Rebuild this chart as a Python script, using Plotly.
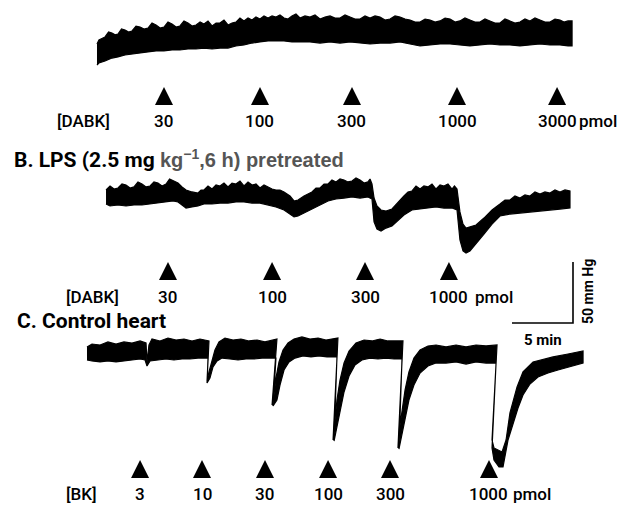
import plotly.graph_objects as go

# ---------------- data (time in min, pressure change in mmHg) ----------------
# Panel A: DABK, control heart -- top and bottom edge of the pressure trace
A_top_time = [7.95, 8.11, 8.61, 8.90, 9.18, 9.43, 9.67, 9.96, 10.25, 10.54,
              10.82, 11.15, 11.48, 11.81, 12.13, 12.46, 12.79, 13.12, 13.44, 13.77,
              14.10, 14.43, 14.75, 15.08, 15.41, 15.74, 16.07, 16.40, 16.72, 17.05,
              17.38, 17.71, 18.03, 18.36, 18.69, 19.02, 19.34, 19.67, 20.00, 20.33,
              20.66, 20.98, 21.31, 21.64, 21.97, 22.30, 22.62, 22.95, 23.28, 23.61,
              23.93, 24.26, 24.59, 25.00, 25.41, 25.82, 26.23, 26.64, 27.05, 27.46,
              27.87, 28.28, 28.69, 29.10, 29.51, 29.92, 30.33, 30.74, 31.15, 31.56,
              31.97, 32.38, 32.79, 33.20, 33.61, 34.02, 34.43, 34.84, 35.25, 35.66,
              36.07, 36.48, 36.89, 37.30, 37.70, 38.11, 38.52, 38.93, 39.34, 39.75,
              40.16, 40.57, 40.98, 41.39, 41.80, 42.21, 42.62, 43.03, 43.44, 43.85,
              44.26, 44.67, 45.08, 45.49, 45.90, 46.23, 46.56, 46.89]
A_top = [17.2, 20.5, 23.0, 27.0, 26.2, 24.8, 25.4, 29.5, 28.7, 27.0,
         27.9, 31.9, 31.1, 29.5, 30.3, 34.4, 32.8, 30.3, 31.1, 35.2,
         33.6, 31.1, 32.0, 36.1, 34.4, 32.0, 32.8, 35.2, 33.6, 36.1,
         32.0, 34.4, 34.4, 36.9, 32.8, 34.4, 35.2, 38.5, 36.1, 38.5,
         36.9, 39.3, 37.7, 40.2, 38.5, 40.2, 39.3, 41.0, 38.5, 37.7,
         40.2, 41.8, 38.5, 40.2, 39.3, 41.0, 37.7, 39.3, 40.2, 38.5,
         38.5, 41.0, 39.3, 37.7, 37.7, 40.2, 38.5, 40.2, 39.3, 36.9,
         37.7, 40.2, 39.3, 37.7, 36.9, 35.2, 35.2, 37.7, 36.9, 35.2,
         36.1, 38.5, 37.7, 35.2, 36.1, 38.5, 36.9, 35.2, 35.2, 37.7,
         36.1, 34.4, 34.4, 37.7, 36.1, 34.4, 35.2, 37.7, 36.1, 38.5,
         36.9, 35.2, 35.2, 37.7, 36.9, 35.2, 36.1, 36.1]
A_bot_time = [7.95, 8.11, 8.61, 9.18, 9.67, 10.25, 10.82, 11.48, 12.13, 12.79,
              13.44, 14.10, 14.75, 15.41, 16.07, 16.72, 17.38, 18.03, 18.69, 19.34,
              20.00, 20.66, 21.31, 21.97, 22.62, 23.28, 23.93, 24.59, 25.41, 26.23,
              27.05, 27.87, 28.69, 29.51, 30.33, 31.15, 31.97, 32.79, 33.61, 34.43,
              35.25, 36.07, 36.89, 37.70, 38.52, 39.34, 40.16, 40.98, 41.80, 42.62,
              43.44, 44.26, 45.08, 45.90, 46.56, 46.89]
A_bot = [0.0, 1.6, 3.3, 5.7, 6.6, 8.2, 9.0, 9.8, 10.7, 11.5,
         11.5, 12.3, 12.3, 13.1, 13.1, 13.9, 13.1, 13.9, 13.9, 15.6,
         16.4, 18.0, 18.9, 19.7, 19.7, 19.7, 18.9, 18.9, 18.9, 18.0,
         18.9, 18.0, 18.9, 18.0, 17.2, 18.0, 18.0, 18.9, 17.2, 15.6,
         16.4, 17.2, 17.2, 16.4, 15.6, 16.4, 17.2, 16.4, 16.4, 15.6,
         16.4, 17.2, 16.4, 16.4, 15.6, 15.6]
A_inj_time = [13.44, 21.31, 28.85, 37.46, 45.66]
A_doses = ["30", "100", "300", "1000", "3000"]

# Panel B: DABK, LPS pretreated
B_top_time = [8.69, 9.02, 9.35, 9.67, 10.00, 10.33, 10.66, 10.98, 11.31, 11.64,
              11.97, 12.30, 12.62, 12.95, 13.28, 13.61, 13.90, 14.18, 14.59, 14.92,
              15.25, 15.74, 16.23, 16.48, 16.72, 17.05, 17.38, 17.71, 18.03, 18.36,
              18.69, 19.02, 19.34, 19.67, 20.00, 20.33, 20.66, 20.98, 21.31, 21.64,
              21.97, 22.30, 22.62, 22.95, 23.28, 23.77, 24.10, 24.43, 24.92, 25.57,
              25.90, 26.23, 26.56, 26.89, 27.21, 27.54, 27.87, 28.20, 28.52, 28.85,
              29.18, 29.51, 29.84, 30.16, 30.33, 30.49, 30.66, 30.90, 31.23, 31.64,
              32.13, 32.62, 33.11, 33.44, 33.77, 34.10, 34.43, 34.75, 35.08, 35.41,
              35.74, 36.07, 36.39, 36.72, 37.05, 37.25, 37.46, 37.70, 37.95, 38.20,
              38.52, 39.02, 39.67, 40.33, 40.98, 41.39, 41.80, 42.21, 42.62, 43.03,
              43.44, 43.85, 44.26, 44.67, 45.08, 45.49, 45.90, 46.31, 46.72]
B_top = [12.3, 15.6, 13.1, 13.9, 17.2, 16.4, 13.9, 14.8, 18.9, 17.2,
         14.8, 15.6, 18.9, 18.0, 15.6, 17.2, 21.3, 19.7, 18.0, 14.8,
         12.3, 10.7, 9.8, 12.3, 12.3, 15.6, 13.1, 16.4, 15.6, 18.0,
         14.8, 18.0, 17.2, 19.7, 15.6, 18.9, 16.4, 17.2, 13.9, 16.4,
         14.8, 13.1, 12.3, 12.3, 10.7, 7.4, 3.3, 4.1, 7.4, 10.7,
         13.9, 13.9, 17.2, 17.2, 20.5, 18.9, 21.3, 20.5, 18.9, 19.7,
         22.1, 20.5, 18.0, 18.9, 21.3, 17.2, 5.7, -0.8, -4.1, -4.9,
         -3.3, 2.5, 7.4, 10.7, 11.5, 15.6, 13.1, 15.6, 14.8, 17.2,
         13.1, 16.4, 15.6, 17.2, 13.1, 15.6, 13.1, -5.7, -15.6, -18.9,
         -18.0, -16.4, -10.7, -4.1, 0.8, 4.1, 4.1, 7.4, 5.7, 8.2,
         7.4, 10.7, 9.0, 10.7, 9.8, 12.3, 10.7, 12.3, 11.5]
B_bot_time = [8.69, 9.02, 9.67, 10.33, 10.98, 11.64, 12.30, 12.95, 13.61, 14.18,
              14.59, 14.92, 15.25, 15.74, 16.23, 16.72, 17.38, 18.03, 18.69, 19.34,
              20.00, 20.66, 21.31, 21.97, 22.62, 23.28, 23.77, 24.10, 24.43, 24.92,
              25.57, 26.23, 26.89, 27.54, 28.20, 28.85, 29.51, 30.16, 30.49, 30.66,
              30.90, 31.23, 31.64, 32.13, 32.62, 33.11, 33.77, 34.43, 35.08, 35.74,
              36.39, 37.05, 37.46, 37.70, 37.95, 38.20, 38.52, 39.02, 39.67, 40.33,
              40.98, 41.80, 42.62, 43.44, 44.26, 45.08, 45.90, 46.72]
B_bot = [0.8, -0.8, 0.0, -0.8, 0.0, 0.0, 0.8, 1.6, 2.5, 3.3,
         2.5, 0.0, -2.5, -1.6, -0.8, 0.8, 0.8, 1.6, 1.6, 2.5,
         2.5, 1.6, 1.6, 0.0, -1.6, -4.1, -7.4, -9.8, -9.0, -6.6,
         -3.3, 0.0, 3.3, 4.9, 5.7, 6.6, 5.7, 6.6, 4.9, -13.9,
         -19.7, -21.3, -18.9, -17.2, -12.3, -8.2, -4.1, -3.3, -2.5, -1.6,
         -2.5, -2.5, -4.1, -28.7, -37.7, -39.3, -37.7, -32.0, -23.8, -15.6,
         -9.0, -7.4, -6.6, -5.7, -4.9, -4.1, -3.3, -2.5]
B_inj_time = [13.77, 22.30, 29.92, 36.80]
B_doses = ["30", "100", "300", "1000"]

# Panel C: BK, control heart
C_top_time = [7.13, 7.54, 8.20, 8.85, 9.51, 10.16, 10.82, 11.48, 11.97, 12.05,
              12.21, 12.46, 13.11, 13.77, 14.43, 15.08, 15.74, 16.39, 17.13, 16.97,
              17.13, 17.38, 17.62, 17.95, 18.44, 19.10, 19.75, 20.41, 21.07, 21.72,
              22.70, 22.30, 22.46, 22.62, 22.87, 23.20, 23.61, 24.10, 24.75, 25.41,
              26.07, 26.72, 27.70, 27.30, 27.46, 27.62, 27.87, 28.20, 28.61, 29.18,
              29.84, 30.49, 31.15, 31.80, 33.03, 32.62, 32.79, 32.95, 33.20, 33.52,
              33.93, 34.43, 35.08, 35.74, 36.56, 37.38, 38.20, 39.02, 39.84, 40.74,
              40.33, 40.49, 41.15, 41.48, 41.80, 42.38, 42.87, 43.69, 45.33, 46.56,
              47.79]
C_top = [10.7, 13.1, 12.3, 14.8, 13.1, 14.8, 13.9, 15.6, 13.9, -1.6,
         12.3, 17.2, 15.6, 18.0, 16.4, 17.2, 15.6, 17.2, 15.6, -17.2,
         -9.8, 0.0, 8.2, 14.8, 18.0, 16.4, 17.2, 15.6, 16.4, 14.8,
         17.2, -36.9, -28.7, -14.8, -1.6, 8.2, 13.9, 17.2, 18.9, 17.2,
         18.0, 16.4, 18.0, -65.6, -49.2, -32.8, -16.4, -2.5, 7.4, 13.9,
         16.4, 15.6, 17.2, 15.6, 15.6, -72.1, -53.3, -41.0, -24.6, -9.8,
         1.6, 8.2, 11.5, 12.3, 10.7, 12.3, 10.7, 12.3, 11.5, 12.3,
         -65.6, -72.1, -75.4, -65.6, -43.4, -22.1, -9.8, -1.6, 2.5, 4.9,
         7.4]
C_bot_time = [7.13, 7.54, 8.20, 8.85, 9.51, 10.16, 10.82, 11.48, 11.89, 12.05,
              12.30, 12.95, 13.61, 14.26, 14.92, 15.57, 16.23, 17.05, 16.97, 17.21,
              17.46, 17.79, 18.20, 18.85, 19.51, 20.16, 20.82, 21.48, 22.62, 22.38,
              22.70, 22.95, 23.28, 23.69, 24.18, 24.84, 25.49, 26.15, 26.80, 27.62,
              27.38, 27.62, 27.87, 28.20, 28.61, 29.10, 29.67, 30.33, 30.98, 31.64,
              32.30, 32.95, 32.70, 32.95, 33.20, 33.52, 33.93, 34.43, 35.08, 35.74,
              36.56, 37.38, 38.20, 39.02, 39.84, 40.66, 40.33, 40.49, 40.90, 41.23,
              41.64, 42.05, 42.46, 42.87, 43.44, 44.10, 44.92, 45.74, 46.56, 47.79]
C_bot = [0.0, -0.8, -1.6, -0.8, -1.6, -0.8, 0.0, 0.8, 0.0, -4.9,
         -0.8, 0.0, 0.8, 0.0, 0.8, 0.8, 1.6, 1.6, -18.9, -14.8,
         -5.7, -0.8, 1.6, 0.8, 0.0, 0.8, 0.8, 1.6, 1.6, -37.7,
         -32.8, -20.5, -8.2, -1.6, 1.6, 3.3, 2.5, 3.3, 2.5, 2.5,
         -66.4, -57.4, -42.6, -26.2, -13.1, -4.1, 0.0, 1.6, 0.8, 1.6,
         0.8, 0.8, -73.0, -61.5, -47.5, -32.8, -20.5, -10.7, -4.9, -2.5,
         -2.5, -1.6, -3.3, -1.6, -2.5, -2.5, -72.1, -82.0, -87.7, -87.7,
         -65.6, -51.6, -39.3, -28.7, -19.7, -13.9, -10.7, -8.2, -5.7, -2.5]
C_inj_time = [11.48, 16.56, 21.72, 26.89, 31.97, 40.08]
C_doses = ["3", "10", "30", "100", "300", "1000"]

SCALE_TIME_MIN = 5
SCALE_PRESSURE_MMHG = 50

# ---------------- layout helpers ----------------
W, H = 629, 506            # browser window
OX, OY = 8, 8              # default page margin around the figure
FIG_W, FIG_H = W - OX, H - OY
PX_PER_MIN = 12.2
PX_PER_MMHG = 1.22


def xdata(px):
    return px / PX_PER_MIN


def ydata(py):
    return (H - py) / PX_PER_MMHG


def xpaper(px):
    return (px - OX) / FIG_W


def ypaper(py):
    return 1 - (py - OY) / FIG_H


OFF_A = ydata(65)
OFF_B = ydata(205)
OFF_C = ydata(360)

FONT = "Roboto, Liberation Sans, Arial, sans-serif"
LABEL_WEIGHT = 500

fig = go.Figure()


def outline(t_top, v_top, t_bot, v_bot, off):
    xs = list(t_top) + list(t_bot)[::-1]
    ys = [v + off for v in v_top] + [v + off for v in v_bot][::-1]
    return xs, ys


panels = [
    outline(A_top_time, A_top, A_bot_time, A_bot, OFF_A),
    outline(B_top_time, B_top, B_bot_time, B_bot, OFF_B),
    outline(C_top_time, C_top, C_bot_time, C_bot, OFF_C),
]
for xs, ys in panels:
    fig.add_trace(go.Scatter(x=xs, y=ys, mode="lines", fill="toself",
                             fillcolor="black",
                             line=dict(color="black", width=1.2),
                             hoverinfo="skip"))

# scale bar
sx0 = xdata(512)
sy0 = ydata(323)
fig.add_trace(go.Scatter(
    x=[sx0, sx0 + SCALE_TIME_MIN, sx0 + SCALE_TIME_MIN],
    y=[sy0, sy0, sy0 + SCALE_PRESSURE_MMHG],
    mode="lines", line=dict(color="black", width=1.6), hoverinfo="skip"))

shapes = []
annotations = []

HW = xdata(9)


def add_row(times, doses, tri_top, tri_bot, text_y):
    for t, d in zip(times, doses):
        shapes.append(dict(
            type="path", xref="x", yref="y",
            path=f"M {t - HW},{ydata(tri_bot)} L {t + HW},{ydata(tri_bot)} L {t},{ydata(tri_top)} Z",
            fillcolor="black", line=dict(width=0)))
        annotations.append(dict(
            x=t, y=ypaper(text_y), xref="x", yref="paper", text=d,
            showarrow=False, xanchor="center", yanchor="middle",
            font=dict(family=FONT, size=17, color="black", weight=LABEL_WEIGHT)))


add_row(A_inj_time, A_doses, 87, 105, 121)
add_row(B_inj_time, B_doses, 262, 280, 297)
add_row(C_inj_time, C_doses, 460, 478, 494)


def text(px_x, px_y, s, size=17, anchor="left", weight=LABEL_WEIGHT,
         color="black", angle=0):
    annotations.append(dict(
        x=xpaper(px_x), y=ypaper(px_y), xref="paper", yref="paper",
        text=s, showarrow=False,
        xanchor=anchor, yanchor="middle", textangle=angle,
        font=dict(family=FONT, size=size, color=color, weight=weight)))


text(55, 121, "[DABK]")
text(577, 121, "pmol")
text(64, 297, "[DABK]")
text(473, 297, "pmol")
text(64, 494, "[BK]")
text(511, 494, "pmol")

text(12, 159,
     "B. LPS (2.5 mg "
     "<span style='font-family:Liberation Sans, Arial, sans-serif;"
     "font-size:20px;color:#555555'>kg<sup>\u22121</sup>,6 h) pretreated</span>",
     size=21, weight="bold")
text(15, 321, "C. Control heart", size=21, weight="bold")
text(543, 340, "5 min", size=15, weight="bold", anchor="center")
text(588, 292, "50 mm Hg", size=14, weight="bold", anchor="center", angle=-90)

fig.update_layout(
    width=FIG_W, height=FIG_H, margin=dict(l=0, r=0, t=0, b=0),
    paper_bgcolor="white", plot_bgcolor="white", showlegend=False,
    xaxis=dict(range=[xdata(OX), xdata(W)], visible=False, fixedrange=True),
    yaxis=dict(range=[ydata(H), ydata(OY)], visible=False, fixedrange=True),
    shapes=shapes, annotations=annotations)

fig.write_html("out.html")
